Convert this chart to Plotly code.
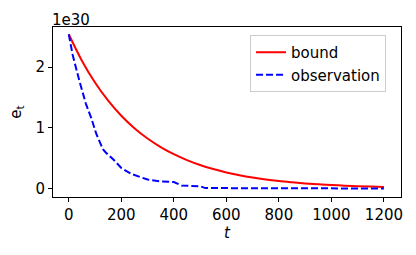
import plotly.graph_objects as go

# values in units of 1e30
bound_t = [0, 50, 100, 150, 200, 250, 300, 350, 400, 450, 500, 550, 600, 650,
           700, 750, 800, 850, 900, 950, 1000, 1050, 1100, 1150, 1200]
bound_v = [2.54, 2.106, 1.746, 1.447, 1.200, 0.995, 0.825, 0.684, 0.567, 0.470,
           0.389, 0.323, 0.267, 0.222, 0.184, 0.152, 0.126, 0.105, 0.087, 0.072,
           0.060, 0.050, 0.041, 0.034, 0.028]

obs_t = [0, 15, 40, 65, 85, 105, 130, 140, 170, 200, 240, 300, 350, 400, 430,
         500, 520, 600, 800, 1000, 1200]
obs_v = [2.54, 2.20, 1.78, 1.40, 1.17, 0.90, 0.65, 0.60, 0.48, 0.34, 0.24, 0.15,
         0.12, 0.11, 0.05, 0.04, 0.01, 0.008, 0.005, 0.004, 0.003]

x_ticks = [0, 200, 400, 600, 800, 1000, 1200]
y_ticks = [0, 1, 2]
offset_label = "1e30"

FONT = "DejaVu Sans"
FS = 15

fig = go.Figure()
fig.add_trace(go.Scatter(x=bound_t, y=bound_v, mode="lines", name="bound",
                         line=dict(color="red", width=2, shape="spline")))
fig.add_trace(go.Scatter(x=obs_t, y=obs_v, mode="lines", name="observation",
                         line=dict(color="blue", width=2, dash="7px,3px")))

axis_common = dict(showgrid=False, zeroline=False, showline=True, mirror=True,
                   linecolor="black", linewidth=1, ticks="outside", ticklen=4,
                   tickcolor="black", automargin=False,
                   tickfont=dict(family=FONT, size=FS, color="black"))

fig.update_layout(
    width=416, height=255,
    margin=dict(l=53, r=15, t=27, b=58, autoexpand=False),
    paper_bgcolor="white", plot_bgcolor="white",
    font=dict(family=FONT, size=FS, color="black"),
    xaxis=dict(range=[-60, 1265], tickvals=x_ticks,
               title=dict(text="<i>t</i>", standoff=0, font=dict(size=FS)),
               **axis_common),
    yaxis=dict(range=[-0.137, 2.66], tickvals=y_ticks,
               title=dict(text="e<sub>t</sub>", standoff=10, font=dict(size=FS)),
               **axis_common),
    legend=dict(x=0.957, y=0.953, xanchor="right", yanchor="top",
                bgcolor="rgba(255,255,255,0.8)", bordercolor="#cccccc", borderwidth=1,
                font=dict(family=FONT, size=FS), tracegroupgap=0),
    showlegend=True,
    annotations=[dict(text=offset_label, xref="paper", yref="paper", x=0, y=1,
                      xanchor="left", yanchor="bottom", showarrow=False,
                      font=dict(family=FONT, size=FS), xshift=-3, yshift=-4)],
)

fig.write_html("out.html", config={"displayModeBar": False},
               post_script="document.body.style.margin='0';")
